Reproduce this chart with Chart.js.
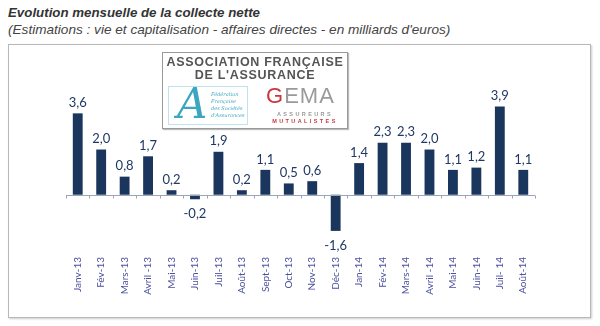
<!DOCTYPE html>
<html>
<head>
<meta charset="utf-8">
<script src="https://cdn.jsdelivr.net/npm/chart.js@4.4.1/dist/chart.umd.min.js"></script>
<style>
  html, body { margin: 0; padding: 0; background: #fff; }
  body { width: 600px; height: 326px; position: relative; overflow: hidden; font-family: "Liberation Sans", Arial, sans-serif; }
  #titre { position: absolute; left: 8px; top: 5px; font-size: 13.3px; font-weight: bold; font-style: italic; color: #333; }
  #sousTitre { position: absolute; left: 8px; top: 22px; font-size: 13.6px; font-style: italic; color: #444; }
  #cadre { position: absolute; left: 8px; top: 44px; width: 581px; height: 272px; border: 1px solid #b8b8b8; box-shadow: 1px 1px 2px #ccc; }
  #graph { position: absolute; left: 0; top: 0; }
  #logo { position: absolute; left: 162px; top: 52px; width: 184px; height: 75px; border: 1px solid #999; background: #fff; box-shadow: 1px 1px 1px #bbb; }
  .afa { position: absolute; left: 0; width: 184px; text-align: center; font-weight: bold; color: #555; font-size: 12.5px; letter-spacing: 0.7px; }
  #ffsa { position: absolute; left: 5px; top: 33px; width: 78px; height: 37px; border: 1px solid #bfe3ec; }
  #ffsaA { position: absolute; left: 8px; top: -8px; font-family: "DejaVu Serif", serif; font-style: italic; font-size: 42px; color: #3aa6c0; }
  #ffsaTxt { position: absolute; left: 42px; top: 4px; font-family: "DejaVu Serif", serif; font-style: italic; font-size: 5px; line-height: 7px; color: #3aa6c0; }
  #gema { position: absolute; left: 103px; top: 30px; font-size: 22px; color: #9a9a9a; letter-spacing: 1px; }
  #gema span { color: #c8373f; }
  .gemaSub { position: absolute; left: 104px; width: 76px; text-align: center; font-size: 5.5px; letter-spacing: 2.4px; font-weight: bold; }
</style>
</head>
<body>
<div id="titre">Evolution mensuelle de la collecte nette</div>
<div id="sousTitre">(Estimations : vie et capitalisation - affaires directes - en milliards d'euros)</div>
<div id="cadre"></div>
<canvas id="graph" width="600" height="326"></canvas>
<div id="logo">
  <div class="afa" style="top:2px">ASSOCIATION FRANÇAISE</div>
  <div class="afa" style="top:15px">DE L'ASSURANCE</div>
  <div id="ffsa">
    <div id="ffsaA">A</div>
    <div id="ffsaTxt">Fédération<br>Française<br>des Sociétés<br>d'Assurances</div>
  </div>
  <div id="gema"><span>G</span>EMA</div>
  <div class="gemaSub" style="top:58px;color:#999">ASSUREURS</div>
  <div class="gemaSub" style="top:65px;color:#c8373f">MUTUALISTES</div>
</div>
<script>
// Données
const mois = ["Janv-13", "Fév-13", "Mars-13", "Avril -13", "Mai-13", "Juin-13", "Juil-13", "Août-13",
    "Sept-13", "Oct-13", "Nov-13", "Déc-13", "Jan-14", "Fév-14", "Mars-14", "Avril -14",
    "Mai-14", "Juin-14", "Juil- 14", "Août-14"];
const collecte = [3.6, 2.0, 0.8, 1.7, 0.2, -0.2, 1.9, 0.2, 1.1, 0.5, 0.6, -1.6, 1.4, 2.3, 2.3, 2.0, 1.1, 1.2, 3.9, 1.1];

// Ligne du zéro avec petites graduations
const ligneZero = {
    id: "ligneZero",
    afterDatasetsDraw(chart) {
        const ctx = chart.ctx;
        const x = chart.scales.x;
        const y0 = Math.round(chart.scales.y.getPixelForValue(0)) + 0.5;
        const n = mois.length;
        const pas = (x.right - x.left) / n;
        ctx.save();
        ctx.strokeStyle = "#9aa5b8";
        ctx.lineWidth = 1;
        ctx.beginPath();
        ctx.moveTo(x.left, y0);
        ctx.lineTo(x.right, y0);
        for (let i = 0; i <= n; i++) {
            const px = Math.round(x.left + i * pas) + 0.5;
            ctx.moveTo(px, y0);
            ctx.lineTo(px, y0 + 3);
        }
        ctx.stroke();
        ctx.restore();
    }
};

// Étiquettes des valeurs
const etiquettes = {
    id: "etiquettes",
    afterDatasetsDraw(chart) {
        const ctx = chart.ctx;
        const meta = chart.getDatasetMeta(0);
        ctx.save();
        ctx.font = "13px Lato";
        ctx.fillStyle = "#1f3864";
        ctx.textAlign = "center";
        meta.data.forEach((bar, i) => {
            const v = collecte[i];
            const txt = v.toFixed(1).replace(".", ",");
            if (v >= 0) {
                ctx.textBaseline = "bottom";
                ctx.fillText(txt, bar.x, bar.y - 4);
            } else {
                ctx.textBaseline = "top";
                ctx.fillText(txt, bar.x, bar.y + 8);
            }
        });
        ctx.restore();
    }
};

new Chart(document.getElementById("graph"), {
    type: "bar",
    data: {
        labels: mois,
        datasets: [{
            data: collecte,
            backgroundColor: "#1b365d",
            barPercentage: 0.42,
            categoryPercentage: 1.0
        }]
    },
    options: {
        responsive: false,
        animation: false,
        layout: { padding: { left: 66, right: 65, top: 93, bottom: 0 } },
        plugins: { legend: { display: false }, tooltip: { enabled: false } },
        scales: {
            x: {
                grid: { display: false },
                border: { display: false },
                ticks: {
                    minRotation: 90,
                    maxRotation: 90,
                    padding: 0,
                    color: "#4a4f9e",
                    font: { family: "Lato", size: 10 }
                },
                afterFit(scale) { scale.height = 77; }
            },
            y: {
                display: false,
                min: -2.4,
                max: 4.5
            }
        }
    },
    plugins: [ligneZero, etiquettes]
});
</script>
</body>
</html>
